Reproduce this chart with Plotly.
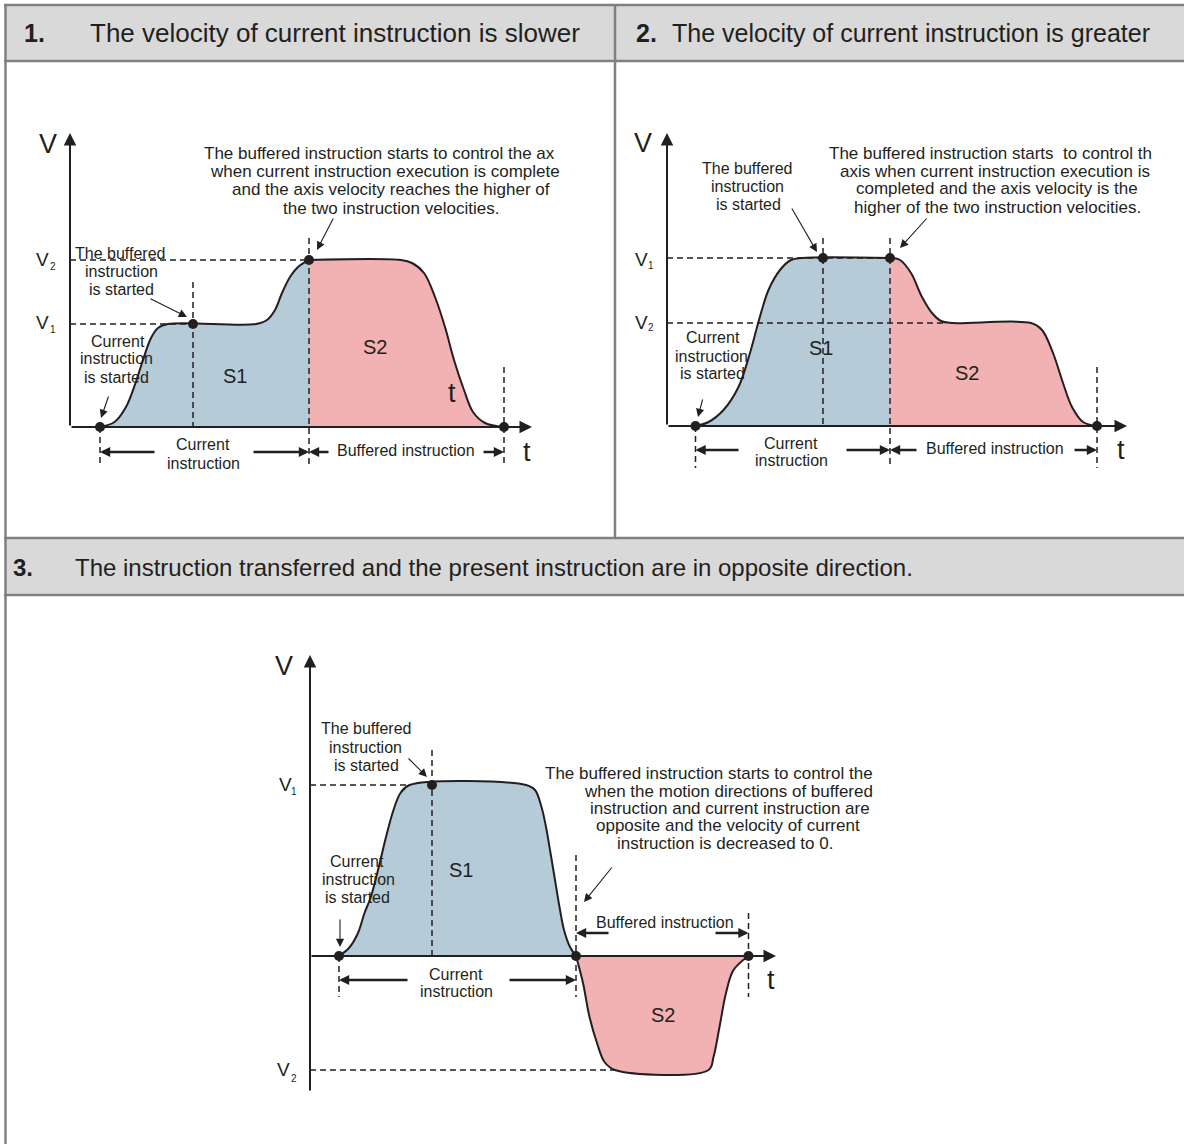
import plotly.graph_objects as go

W, H = 1184, 1144
PXU = 10.0  # screen pixels per data unit inside every diagram

INK = "#231f20"
BLUE = "rgb(181,203,216)"
PINK = "rgb(242,177,178)"
RULE = "#808080"
HEAD = "#d9d9d9"
FONT = "Liberation Sans, Arial, sans-serif"
LAB = 16   # size of stacked labels

# ------------------------------------------------------------------ data
# Panel 1 : current instruction slower (V1 < V2)
p1_cur_t = [3.0, 4.45, 5.6, 6.55, 7.3, 8.1, 8.8, 9.8, 18.6, 19.7, 20.5, 21.2, 22.0, 22.8, 23.5, 23.9]
p1_cur_v = [0.0, 0.5, 2.0, 4.4, 6.7, 8.9, 9.9, 10.3, 10.3, 10.7, 11.7, 13.4, 15.0, 16.0, 16.5, 16.7]
p1_buf_t = [23.9, 33.1, 34.2, 35.4, 36.5, 37.5, 38.4, 39.4, 40.3, 41.5, 43.4]
p1_buf_v = [16.7, 16.7, 16.4, 15.4, 13.0, 10.0, 6.7, 3.7, 1.5, 0.4, 0.0]
p1_key_t = [3.0, 12.3, 23.9, 43.4]
p1_key_v = [0.0, 10.3, 16.7, 0.0]
p1_hline_v = [16.7, 10.3]
p1_hline_end = [23.9, 12.3]
p1_vline_t = [12.3, 23.9, 3.0, 43.4]
p1_vline_top = [14.5, 18.9, 0.0, 6.0]
p1_vline_bot = [0.0, -4.0, -4.0, -4.0]
p1_axis = [46.2, 29.4, 0.0]          # t max, v max, v min
p1_dim_v = [-2.5, -2.5]               # level of current / buffered span arrows
p1_cur_tails = [8.6, 18.2]
p1_buf_tails = [26.0, 41.2]

# Panel 2 : current instruction greater (V1 > V2)
p2_cur_t = [2.85, 4.15, 5.65, 7.15, 8.3, 9.2, 10.15, 11.3, 12.4, 13.5, 22.3]
p2_cur_v = [0.0, 0.4, 1.6, 3.9, 7.3, 10.6, 13.6, 15.6, 16.6, 16.8, 16.8]
p2_buf_t = [22.3, 23.3, 24.4, 25.5, 26.5, 27.4, 28.5, 36.4, 37.5, 38.6, 39.6, 40.5, 41.6, 43.0]
p2_buf_v = [16.8, 16.6, 15.3, 12.9, 11.3, 10.5, 10.3, 10.3, 9.6, 7.3, 4.3, 1.9, 0.4, 0.0]
p2_key_t = [2.85, 15.6, 22.3, 43.0]
p2_key_v = [0.0, 16.8, 16.8, 0.0]
p2_hline_v = [16.8, 10.3]
p2_hline_end = [22.3, 27.8]
p2_vline_t = [15.6, 22.3, 2.85, 43.0]
p2_vline_top = [18.8, 18.8, 0.0, 5.9]
p2_vline_bot = [0.0, -4.2, -4.2, -4.2]
p2_axis = [46.0, 29.3, 0.0]
p2_dim_v = [-2.4, -2.4]
p2_cur_tails = [7.3, 17.8]
p2_buf_tails = [25.1, 40.6]

# Panel 3 : opposite directions
p3_cur_t = [2.9, 3.9, 4.8, 5.45, 6.05, 6.55, 7.0, 7.6, 8.35, 9.05, 9.95, 21.6, 22.5, 23.15, 23.6,
            24.05, 24.5, 24.95, 25.4, 26.0, 26.6]
p3_cur_v = [0.0, 0.8, 2.3, 4.3, 5.8, 7.6, 9.4, 11.9, 14.6, 16.3, 17.1, 17.1, 16.6, 14.9, 12.9,
            10.3, 7.6, 4.9, 2.6, 0.9, 0.0]
p3_buf_t = [26.6, 27.3, 27.95, 28.7, 29.45, 30.5, 39.85, 40.35, 40.95, 41.6, 42.35, 43.85]
p3_buf_v = [0.0, -2.7, -6.1, -8.7, -10.6, -11.4, -11.4, -10.1, -7.1, -3.7, -1.4, 0.0]
p3_key_t = [2.9, 12.2, 26.6, 43.85]
p3_key_v = [0.0, 17.1, 0.0, 0.0]
p3_hline_v = [17.1, -11.4]
p3_hline_end = [9.95, 30.5]
p3_vline_t = [12.2, 26.6, 2.9, 43.85]
p3_vline_top = [20.6, 10.1, 0.0, 4.3]
p3_vline_bot = [0.0, -4.1, -4.1, -4.1]
p3_axis = [46.6, 30.1, -13.6]
p3_dim_v = [-2.4, 2.3]
p3_cur_tails = [9.9, 19.8]
p3_buf_tails = [30.0, 40.4]

# header texts
headers = [
    ("1.", "The velocity of current instruction is slower"),
    ("2.", "The velocity of current instruction is greater"),
    ("3.", "The instruction transferred and the present instruction are in opposite direction."),
]

# ------------------------------------------------------------------ figure
fig = go.Figure()
annotations = []


def T(x, y, s, size=17, xa="center", family=FONT):
    annotations.append(dict(x=x / W, y=1 - y / H, xref="paper", yref="paper", text=s,
                            showarrow=False, xanchor=xa, yanchor="middle",
                            font=dict(size=size, family=family, color=INK)))


def A(tip_x, tip_y, tail_x, tail_y):
    annotations.append(dict(x=tip_x / W, y=1 - tip_y / H, xref="paper", yref="paper", text="",
                            ax=tail_x - tip_x, ay=tail_y - tip_y, showarrow=True, arrowhead=2,
                            arrowwidth=1.1, arrowsize=1.5, arrowcolor=INK, standoff=0))


def DA(xa, ya, tip_t, tip_v, tail_t, tail_v, w=2.4, size=0.85):
    annotations.append(dict(x=tip_t, y=tip_v, xref=xa, yref=ya, ax=tail_t, ay=tail_v,
                            axref=xa, ayref=ya, text="", showarrow=True, arrowhead=2,
                            arrowwidth=w, arrowsize=size, arrowcolor=INK, standoff=0))


def panel(n, box, origin, cur_t, cur_v, buf_t, buf_v, key_t, key_v, hl_v, hl_end,
          vl_t, vl_top, vl_bot, axis, dim_v, cur_tails, buf_tails):
    xa = "x" if n == 1 else f"x{n}"
    ya = "y" if n == 1 else f"y{n}"
    left, right, top, bottom = box
    ox, oy = origin
    fig.layout[f"xaxis{'' if n == 1 else n}"] = dict(
        domain=[left / W, right / W], range=[(left - ox) / PXU, (right - ox) / PXU],
        visible=False, fixedrange=True, anchor=ya)
    fig.layout[f"yaxis{'' if n == 1 else n}"] = dict(
        domain=[1 - bottom / H, 1 - top / H], range=[(oy - bottom) / PXU, (oy - top) / PXU],
        visible=False, fixedrange=True, anchor=xa)
    common = dict(xaxis=xa, yaxis=ya, hoverinfo="skip", showlegend=False)
    fig.add_trace(go.Scatter(x=cur_t, y=cur_v, mode="lines", fill="tozeroy", fillcolor=BLUE,
                             line=dict(color=INK, width=2, shape="spline", smoothing=1.0), **common))
    fig.add_trace(go.Scatter(x=buf_t, y=buf_v, mode="lines", fill="tozeroy", fillcolor=PINK,
                             line=dict(color=INK, width=2, shape="spline", smoothing=1.0), **common))
    dx, dy = [], []
    for v, e in zip(hl_v, hl_end):
        dx += [0, e, None]
        dy += [v, v, None]
    for t, a, b in zip(vl_t, vl_top, vl_bot):
        dx += [t, t, None]
        dy += [a, b, None]
    fig.add_trace(go.Scatter(x=dx, y=dy, mode="lines",
                             line=dict(color=INK, width=1.5, dash="6px,4px"), **common))
    fig.add_trace(go.Scatter(x=key_t, y=key_v, mode="markers",
                             marker=dict(size=10, color=INK), **common))
    # axes with arrow heads
    t_max, v_max, v_min = axis
    DA(xa, ya, t_max, 0, 0, 0, w=2, size=1.25)
    DA(xa, ya, 0, v_max, 0, v_min, w=2, size=1.25)
    # span arrows (current / buffered instruction)
    DA(xa, ya, key_t[0], dim_v[0], cur_tails[0], dim_v[0])
    DA(xa, ya, key_t[2], dim_v[0], cur_tails[1], dim_v[0])
    DA(xa, ya, key_t[2], dim_v[1], buf_tails[0], dim_v[1])
    DA(xa, ya, key_t[3], dim_v[1], buf_tails[1], dim_v[1])


panel(1, (5, 615, 61, 538), (70, 427), p1_cur_t, p1_cur_v, p1_buf_t, p1_buf_v, p1_key_t, p1_key_v,
      p1_hline_v, p1_hline_end, p1_vline_t, p1_vline_top, p1_vline_bot, p1_axis, p1_dim_v,
      p1_cur_tails, p1_buf_tails)
panel(2, (615, 1184, 61, 538), (667, 426), p2_cur_t, p2_cur_v, p2_buf_t, p2_buf_v, p2_key_t, p2_key_v,
      p2_hline_v, p2_hline_end, p2_vline_t, p2_vline_top, p2_vline_bot, p2_axis, p2_dim_v,
      p2_cur_tails, p2_buf_tails)
panel(3, (5, 1184, 595, 1144), (310, 956), p3_cur_t, p3_cur_v, p3_buf_t, p3_buf_v, p3_key_t, p3_key_v,
      p3_hline_v, p3_hline_end, p3_vline_t, p3_vline_top, p3_vline_bot, p3_axis, p3_dim_v,
      p3_cur_tails, p3_buf_tails)

# ------------------------------------------------------------------ table frame
shapes = []


def rect(x0, y0, x1, y1, fill):
    shapes.append(dict(type="rect", xref="paper", yref="paper", x0=x0 / W, x1=x1 / W,
                       y0=1 - y1 / H, y1=1 - y0 / H, fillcolor=fill, line=dict(width=0), layer="below"))


def rule(x0, y0, x1, y1):
    shapes.append(dict(type="line", xref="paper", yref="paper", x0=x0 / W, x1=x1 / W,
                       y0=1 - y0 / H, y1=1 - y1 / H, line=dict(color=RULE, width=2.5)))


rect(5, 5, 1184, 61, HEAD)
rect(5, 538, 1184, 595, HEAD)
rule(4, 5, 1184, 5)
rule(4, 61, 1184, 61)
rule(4, 538, 1184, 538)
rule(4, 595, 1184, 595)
rule(5.5, 4, 5.5, 1144)
rule(615, 5, 615, 538)

# header texts
T(22, 33, "<b>%s</b>" % headers[0][0], 25, "left")
T(88, 33, headers[0][1], 26, "left")
T(634, 33, "<b>%s</b>" % headers[1][0], 25, "left")
T(670, 33, headers[1][1], 25, "left")
T(11, 567, "<b>%s</b>" % headers[2][0], 24, "left")
T(73, 567, headers[2][1], 24, "left")

# ------------------------------------------------------------------ panel 1 labels
T(48, 144, "V", 27)
T(43, 259, "V", 19); T(53, 266, "2", 10)
T(43, 323, "V", 19); T(53, 330, "1", 10)
T(202, 153, "The buffered instruction starts to control the ax", 17, "left")
T(208, 172, "when current instruction execution is complete", 17, "left")
T(391, 189, "and the axis velocity reaches the higher of")
T(391, 208, "the two instruction velocities.")
A(317, 250, 334, 217)
T(120, 253, "The buffered", LAB); T(121, 271, "instruction", LAB); T(121, 289, "is started", LAB)
A(187, 317, 149, 298)
T(118, 341, "Current", LAB); T(116, 359, "instruction", LAB); T(116, 377, "is started", LAB)
A(101, 418, 109, 395)
T(235, 376, "S1", 20); T(375, 347, "S2", 20)
T(452, 393, "t", 27); T(527, 452, "t", 27)
T(203, 445, "Current", LAB); T(203, 463, "instruction", LAB)
T(406, 451, "Buffered instruction", LAB)

# ------------------------------------------------------------------ panel 2 labels
T(643, 143, "V", 27)
T(641, 259, "V", 19); T(651, 265, "1", 10)
T(641, 322, "V", 19); T(651, 328, "2", 10)
T(827, 153, "The buffered instruction starts  to control th", 17, "left")
T(838, 172, "axis when current instruction execution is", 17, "left")
T(997, 188, "completed and the axis velocity is the")
T(997, 207, "higher of the two instruction velocities.")
A(900, 248, 928, 217)
T(747, 168, "The buffered", LAB); T(747, 186, "instruction", LAB); T(748, 204, "is started", LAB)
A(817, 252, 791, 207)
T(713, 338, "Current", LAB); T(711, 356, "instruction", LAB); T(712, 374, "is started", LAB)
A(698, 417, 703, 398)
T(821, 348, "S1", 20); T(967, 373, "S2", 20)
T(791, 443, "Current", LAB); T(791, 461, "instruction", LAB)
T(995, 448, "Buffered instruction", LAB)
T(1121, 450, "t", 27)

# ------------------------------------------------------------------ panel 3 labels
T(284, 666, "V", 27)
T(285, 784, "V", 19); T(294, 791, "1", 10)
T(283, 1069, "V", 19); T(294, 1078, "2", 10)
T(366, 729, "The buffered", LAB); T(365, 747, "instruction", LAB); T(366, 765, "is started", LAB)
A(427, 777, 407, 757)
T(357, 861, "Current", LAB); T(358, 879, "instruction", LAB); T(357, 897, "is started", LAB)
A(340, 947, 340, 918)
T(461, 870, "S1", 20); T(663, 1015, "S2", 20)
T(709, 773, "The buffered instruction starts to control the")
T(728, 791, "when the motion directions of buffered")
T(730, 808, "instruction and current instruction are")
T(728, 826, "opposite and the velocity of current")
T(725, 843, "instruction is decreased to 0.")
A(584, 902, 613, 866)
T(665, 923, "Buffered instruction", LAB)
T(456, 974, "Current", LAB); T(456, 992, "instruction", LAB)
T(771, 980, "t", 27)

fig.update_layout(width=W, height=H, margin=dict(l=0, r=0, t=0, b=0),
                  paper_bgcolor="white", plot_bgcolor="rgba(0,0,0,0)",
                  showlegend=False, shapes=shapes, annotations=annotations)

fig.write_html("out.html", config={"displayModeBar": False},
               post_script="document.body.style.margin='0';document.body.style.overflow='hidden';")
